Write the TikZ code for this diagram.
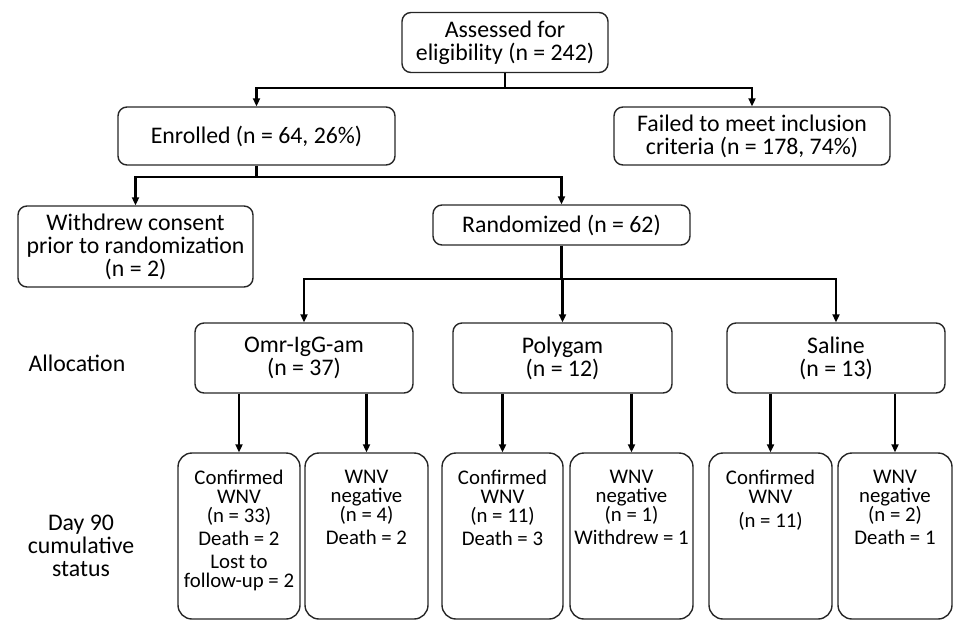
\documentclass[tikz,border=0pt]{standalone}
\usepackage{fontspec}
\setmainfont{Carlito}
\usetikzlibrary{arrows.meta}
\begin{document}
\begin{tikzpicture}[x=1pt,y=-1pt,
  box/.style={draw=black!85, line width=1.4pt, rounded corners=9pt, inner sep=0pt, align=center,
    font=\fontsize{23.8}{23}\selectfont},
  tallbox/.style={draw=black!85, line width=1.4pt, rounded corners=14pt, inner sep=0pt},
  smalltxt/.style={inner sep=0pt, align=center, anchor=north, font=\fontsize{20.8}{19}\selectfont},
  lbl/.style={inner sep=0pt, align=center, font=\fontsize{23.8}{23}\selectfont},
  conn/.style={line width=2.6pt, black},
  arr/.style={conn, -{Triangle[length=8pt,width=7pt]}}
]
\useasboundingbox (0,0) rectangle (953,619);

% top level
\node[box, minimum width=206pt, minimum height=60pt] (top) at (505,42.5) {Assessed for\\eligibility (n = 242)};
\node[box, minimum width=277pt, minimum height=58pt] (enr) at (256.5,136) {Enrolled (n = 64, 26\%)};
\node[box, minimum width=276pt, minimum height=58pt] (fail) at (752,136) {Failed to meet inclusion\\criteria (n = 178, 74\%)};
\node[box, minimum width=235pt, minimum height=81pt] (wd) at (135.5,246.5) {Withdrew consent\\prior to randomization\\(n = 2)};
\node[box, minimum width=257pt, minimum height=40pt] (rand) at (561.5,225) {Randomized (n = 62)};

% allocation
\node[box, minimum width=218pt, minimum height=70pt] (omr) at (304,358) {Omr-IgG-am\\(n = 37)};
\node[box, minimum width=219pt, minimum height=70pt] (poly) at (562.5,358) {Polygam\\(n = 12)};
\node[box, minimum width=218pt, minimum height=70pt] (sal) at (836,358) {Saline\\(n = 13)};

\node[lbl] (alloc) at (77,363) {Allocation};
\node[lbl] (day) at (81,546) {Day 90\\cumulative\\status};

% day 90 boxes
\node[tallbox, minimum width=122pt, minimum height=166pt] (c1) at (239,536) {};
\node[tallbox, minimum width=123pt, minimum height=166pt] (c2) at (366.5,536) {};
\node[tallbox, minimum width=121pt, minimum height=166pt] (c3) at (502.5,536) {};
\node[tallbox, minimum width=123pt, minimum height=166pt] (c4) at (631.5,536) {};
\node[tallbox, minimum width=123pt, minimum height=166pt] (c5) at (770.5,536) {};
\node[tallbox, minimum width=114pt, minimum height=166pt] (c6) at (895,536) {};

\node[smalltxt] (t1) at (239,470) {Confirmed\\WNV\\(n = 33)\\[4pt]Death = 2\\[4pt]Lost to\\follow-up = 2};
\node[smalltxt] (t2) at (366.5,470) {WNV\\negative\\(n = 4)\\[4pt]Death = 2};
\node[smalltxt] (t3) at (502.5,470) {Confirmed\\WNV\\(n = 11)\\[4pt]Death = 3};
\node[smalltxt] (t4) at (631.5,470) {WNV\\negative\\(n = 1)\\[4pt]Withdrew = 1};
\node[smalltxt] (t5) at (770.5,470) {Confirmed\\WNV\\[5pt](n = 11)};
\node[smalltxt] (t6) at (895,470) {WNV\\negative\\(n = 2)\\[4pt]Death = 1};

% connectors
\coordinate (j1) at (505,88);
\draw[conn] (top.south) -- (j1);
\draw[arr] (j1) -| (enr.north);
\draw[arr] (j1) -| (fail.north);

\coordinate (j2) at (256.5,177);
\draw[conn] (enr.south) -- (j2);
\draw[arr] (j2) -| (wd.north);
\draw[arr] (j2) -| (rand.north);

\coordinate (j3) at (561.5,279);
\draw[conn] (rand.south) -- (j3);
\draw[arr] (j3) -| (omr.north);
\draw[arr] (j3) -| (poly.north);
\draw[arr] (j3) -| (sal.north);

\draw[arr] (c1.north |- omr.south) -- (c1.north);
\draw[arr] (c2.north |- omr.south) -- (c2.north);
\draw[arr] (c3.north |- poly.south) -- (c3.north);
\draw[arr] (c4.north |- poly.south) -- (c4.north);
\draw[arr] (c5.north |- sal.south) -- (c5.north);
\draw[arr] (c6.north |- sal.south) -- (c6.north);
\end{tikzpicture}
\end{document}
